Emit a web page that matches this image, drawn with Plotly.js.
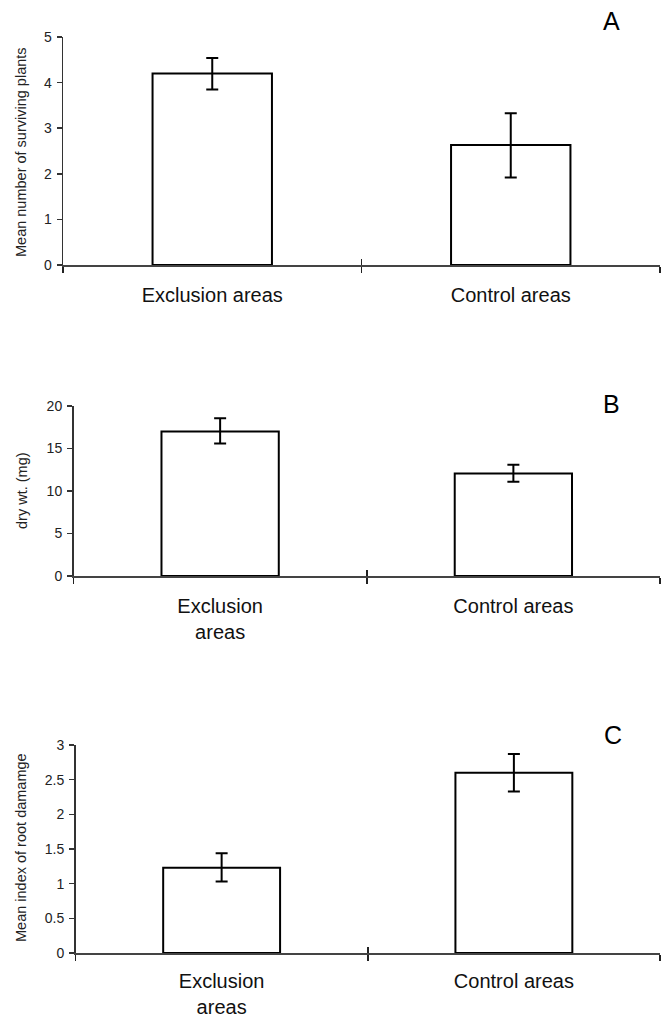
<!DOCTYPE html>
<html>
<head>
<meta charset="utf-8">
<script src="https://cdn.plot.ly/plotly-3.0.1.min.js"></script>
<style>html,body{margin:0;padding:0;background:#fff;}#chart{width:667px;height:1017px;}</style>
</head>
<body>
<div id="chart"></div>
<script>
// Categories
var catsA = ['Exclusion areas', 'Control areas'];
var catsB = ['Exclusion<br>areas', 'Control areas'];
var catsC = ['Exclusion<br>areas', 'Control areas'];

// Panel A: mean number of surviving plants
var valsA = [4.2, 2.63];
var errPlusA = [0.34, 0.70];
var errMinusA = [0.35, 0.71];

// Panel B: dry wt. (mg)
var valsB = [17.0, 12.05];
var errPlusB = [1.55, 1.05];
var errMinusB = [1.4, 0.97];

// Panel C: mean index of root damage
var valsC = [1.23, 2.6];
var errPlusC = [0.21, 0.27];
var errMinusC = [0.2, 0.27];

var yTitles = ['Mean number of surviving plants', 'dry wt. (mg)', 'Mean index of root damamge'];
var panelLetters = ['A', 'B', 'C'];
var yTicksA = [0, 1, 2, 3, 4, 5];
var yTicksB = [0, 5, 10, 15, 20];
var yTicksC = [0, 0.5, 1, 1.5, 2, 2.5, 3];

var W = 667, H = 1017;
function px(v) { return v / W; }
function py(v) { return 1 - v / H; }

function barTrace(cats, vals, ep, em, xa, ya) {
  return {
    type: 'bar', x: cats, y: vals, xaxis: xa, yaxis: ya, width: 0.4,
    marker: {color: '#ffffff', line: {color: '#000000', width: 2}},
    error_y: {type: 'data', array: ep, arrayminus: em, visible: true,
              color: '#000000', thickness: 2, width: 6},
    hoverinfo: 'skip', showlegend: false
  };
}
function ghostTrace(cats, vals, xa, ya) {
  return {type: 'scatter', mode: 'markers', x: cats, y: vals, xaxis: xa, yaxis: ya,
          marker: {opacity: 0, size: 1}, hoverinfo: 'skip', showlegend: false};
}

var data = [
  barTrace(catsA, valsA, errPlusA, errMinusA, 'x', 'y'),
  barTrace(catsB, valsB, errPlusB, errMinusB, 'x2', 'y2'),
  barTrace(catsC, valsC, errPlusC, errMinusC, 'x3', 'y3'),
  ghostTrace(catsA, valsA, 'x4', 'y'),
  ghostTrace(catsB, valsB, 'x5', 'y2'),
  ghostTrace(catsC, valsC, 'x6', 'y3')
];

var tickFont = {family: 'Liberation Sans, Arial, sans-serif', size: 14, color: '#222'};
var catFont = {family: 'Liberation Sans, Arial, sans-serif', size: 20, color: '#111'};
var titleFont = {family: 'Liberation Sans, Arial, sans-serif', size: 14.5, color: '#222'};
var letterFont = {family: 'Liberation Sans, Arial, sans-serif', size: 25, color: '#000'};

function xMain(dom, yanchor, standoff) {
  return {domain: dom, anchor: yanchor, type: 'category', range: [-0.5, 1.5],
          tickson: 'boundaries', ticks: 'outside', ticklen: 6, tickwidth: 1.5, tickcolor: '#222',
          showline: true, linecolor: '#444', linewidth: 2, showgrid: false, zeroline: false,
          tickfont: catFont, ticklabelstandoff: standoff, fixedrange: true};
}
function xOver(dom, over, yanchor) {
  return {domain: dom, anchor: yanchor, overlaying: over, type: 'category', range: [-0.5, 1.5],
          tickson: 'boundaries', ticks: 'inside', ticklen: 6, tickwidth: 1.5, tickcolor: '#222',
          showline: false, showgrid: false, zeroline: false, showticklabels: false, fixedrange: true};
}
function yMain(dom, xanchor, rng, tv) {
  return {domain: dom, anchor: xanchor, range: rng, tickvals: tv, ticks: 'outside', ticklen: 5,
          tickwidth: 1.5, tickcolor: '#333', showline: true, linecolor: '#333', linewidth: 1.5,
          showgrid: false, zeroline: false, tickfont: tickFont, ticklabelstandoff: 2, fixedrange: true};
}
function yOver(dom, over, xanchor, rng, tv) {
  return {domain: dom, anchor: xanchor, overlaying: over, range: rng, tickvals: tv, ticks: 'inside',
          ticklen: 5, tickwidth: 1.5, tickcolor: '#333', showline: false, showgrid: false,
          zeroline: false, showticklabels: false, fixedrange: true};
}

var domXA = [px(63), px(660)], domXB = [px(73.5), px(660)], domXC = [px(75.5), px(660)];
var domYA = [py(265), py(37)], domYB = [py(576), py(406)], domYC = [py(953), py(745)];

function ann(text, x, y, angle, font) {
  return {text: text, xref: 'paper', yref: 'paper', x: px(x), y: py(y), textangle: angle,
          xanchor: 'center', yanchor: 'middle', showarrow: false, font: font};
}

var layout = {
  width: W, height: H,
  margin: {l: 0, r: 0, t: 0, b: 0},
  paper_bgcolor: '#ffffff', plot_bgcolor: 'rgba(0,0,0,0)',
  showlegend: false,
  xaxis: xMain(domXA, 'y', 11),
  xaxis2: xMain(domXB, 'y2', 11),
  xaxis3: xMain(domXC, 'y3', 9),
  xaxis4: xOver(domXA, 'x', 'y'),
  xaxis5: xOver(domXB, 'x2', 'y2'),
  xaxis6: xOver(domXC, 'x3', 'y3'),
  yaxis: yMain(domYA, 'x', [0, 5], yTicksA),
  yaxis2: yMain(domYB, 'x2', [0, 20], yTicksB),
  yaxis3: yMain(domYC, 'x3', [0, 3], yTicksC),
  yaxis4: yOver(domYA, 'y', 'x', [0, 5], yTicksA),
  yaxis5: yOver(domYB, 'y2', 'x2', [0, 20], yTicksB),
  yaxis6: yOver(domYC, 'y3', 'x3', [0, 3], yTicksC),
  annotations: [
    ann(yTitles[0], 21, 152, -90, titleFont),
    ann(yTitles[1], 22, 491, -90, titleFont),
    ann(yTitles[2], 21, 848, -90, titleFont),
    ann(panelLetters[0], 611, 21, 0, letterFont),
    ann(panelLetters[1], 611, 404, 0, letterFont),
    ann(panelLetters[2], 613, 735, 0, letterFont)
  ]
};

Plotly.newPlot('chart', data, layout, {displayModeBar: false, staticPlot: true});
</script>
</body>
</html>
